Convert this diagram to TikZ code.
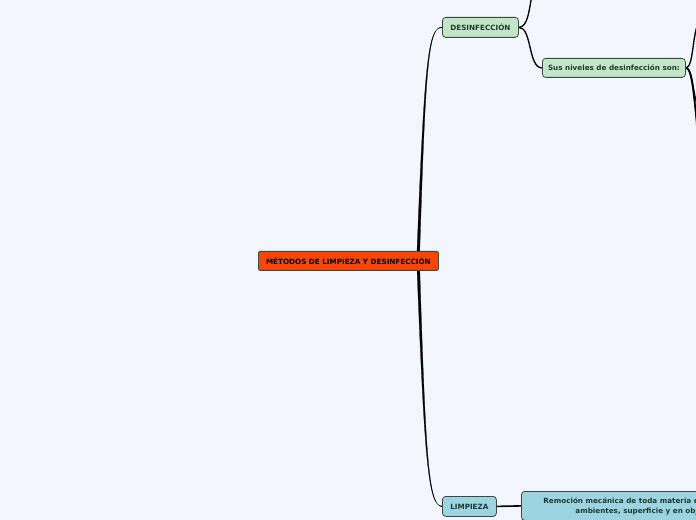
\documentclass[tikz,border=0pt]{standalone}
\usepackage{fontspec}
\setmainfont{DejaVu Sans}
\definecolor{bg}{HTML}{F3F6FE}
\definecolor{rootc}{HTML}{FF4500}
\definecolor{greenc}{HTML}{C4E6C8}
\definecolor{bluec}{HTML}{9DD4E2}
\definecolor{edgec}{HTML}{3A4A40}
\definecolor{txtc}{HTML}{1E3A2E}
\pgfdeclarelayer{bglayer}
\pgfdeclarelayer{edgelayer}
\pgfsetlayers{bglayer,edgelayer,main}
\begin{document}
\begin{tikzpicture}[x=0.75pt,y=-0.75pt,
  box/.style={draw=edgec,line width=0.6pt,rounded corners=2.5pt,inner sep=0pt,font=\fontsize{5.4}{7.5}\selectfont\bfseries,text=txtc,anchor=north west},
  conn/.style={line width=1pt,black},
  taper/.style={fill=black,draw=black,line width=0.2pt}]
\begin{pgfonlayer}{bglayer}
\fill[bg] (0,0) rectangle (696,520);
\end{pgfonlayer}
\useasboundingbox (0,0) rectangle (696,520);
\begin{scope}
\clip (0,0) rectangle (696,520);
\node[box,fill=rootc,text=black,rounded corners=1pt,minimum width=180*0.75pt,minimum height=19*0.75pt] (root) at (258,251) {MÉTODOS DE LIMPIEZA Y DESINFECCIÓN};
\node[box,fill=greenc,minimum width=76*0.75pt,minimum height=20*0.75pt] (des) at (442,17) {DESINFECCIÓN};
\node[box,fill=greenc,minimum width=143*0.75pt,minimum height=19*0.75pt] (niv) at (542,58) {Sus niveles de desinfección son:};
\node[box,fill=bluec,minimum width=54*0.75pt,minimum height=20*0.75pt] (lim) at (442,496) {LIMPIEZA};
\node[box,fill=bluec,minimum width=200*0.75pt,minimum height=29*0.75pt,align=left,anchor=north west] (rem) at (521,491) {\hspace*{16.5pt}Remoción mecánica de toda materia extraña de los\\\hspace*{40.5pt}ambientes, superficie y en objetos};
\coordinate (r0) at (418,260);
\coordinate (dtop) at (532,-5);
\coordinate (n1) at (700,20);
\coordinate (n2) at (700,110);
\coordinate (n3) at (700,135);
\coordinate (n4) at (700,160);
\begin{pgfonlayer}{edgelayer}
% root to DESINFECCION (tapered)
\fill[taper] (416.6,262) .. controls (424.4,60) and (428,26.6) .. ([yshift=-0.4*0.75pt]des.west)
  -- ([yshift=0.4*0.75pt]des.west) .. controls (428.6,27.4) and (425.6,60) .. (419.4,262) -- cycle;
% root to LIMPIEZA (tapered)
\fill[taper] (416.6,258) .. controls (424.4,460) and (428,506.6) .. ([yshift=0.4*0.75pt]lim.west)
  -- ([yshift=-0.4*0.75pt]lim.west) .. controls (428.6,505.4) and (425.6,460) .. (419.4,258) -- cycle;
% DESINFECCION children
\draw[conn] (des.east) .. controls (528,27) and (529,10) .. (dtop);
\draw[conn] (des.east) .. controls (532,27) and (528,68) .. (niv.west);
% niveles children
\draw[conn] (niv.east) .. controls (694,68) and (692,30) .. (n1);
\draw[conn] (niv.east) .. controls (694,68) and (692,100) .. (n2);
\draw[conn] (niv.east) .. controls (694,68) and (694,120) .. (n3);
\draw[conn] (niv.east) .. controls (696,68) and (696,140) .. (n4);
% LIMPIEZA child
\draw[line width=1.2pt] (lim.east) -- (rem.west);
\end{pgfonlayer}
\end{scope}
\end{tikzpicture}
\end{document}
